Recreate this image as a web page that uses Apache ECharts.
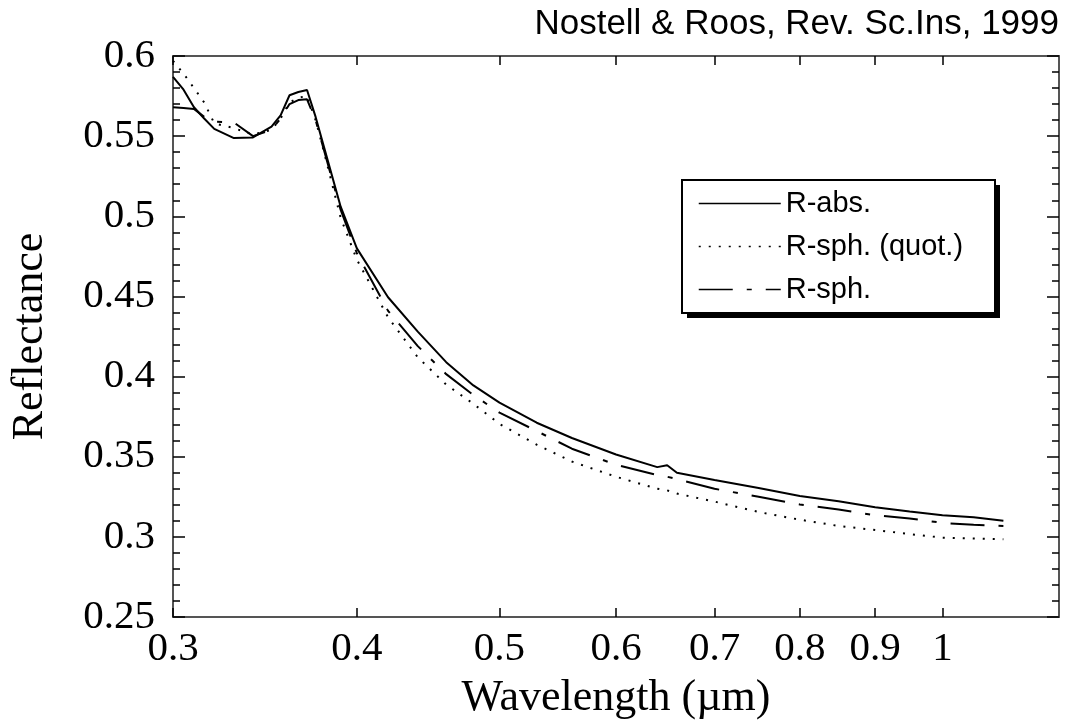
<!DOCTYPE html>
<html><head><meta charset="utf-8">
<script src="https://cdn.jsdelivr.net/npm/echarts@6/dist/echarts.min.js"></script>
<style>html,body{margin:0;padding:0;background:#fff}#c{width:1072px;height:726px}</style>
</head><body><div id="c"></div>
<script>
// Wavelength (µm) sample points
const wavelength = [0.30,0.305,0.31,0.315,0.32,0.33,0.34,0.35,0.355,0.36,0.365,0.37,0.375,0.38,0.39,0.40,0.42,0.44,0.46,0.48,0.50,0.53,0.56,0.60,0.64,0.65,0.66,0.70,0.75,0.80,0.85,0.90,0.95,1.00,1.05,1.10];
// R-abs. (solid)
const rAbs = [0.587,0.579,0.568,0.561,0.5545,0.5488,0.5492,0.556,0.563,0.5755,0.5775,0.5788,0.562,0.543,0.506,0.480,0.4495,0.428,0.409,0.3945,0.3837,0.3712,0.3617,0.3514,0.3435,0.3447,0.3400,0.3355,0.3305,0.3255,0.3222,0.3185,0.3158,0.3135,0.3122,0.3100];
// R-sph. (quot.) (dotted)
const rSphQuot = [0.597,0.589,0.580,0.571,0.558,0.555,0.551,0.554,0.561,0.571,0.574,0.575,0.560,0.540,0.499,0.473,0.437,0.412,0.395,0.383,0.3705,0.3575,0.347,0.3375,0.330,0.329,0.327,0.322,0.3155,0.3107,0.3068,0.3043,0.3017,0.2995,0.2990,0.2985];
// R-sph. (long dash - short dash)
const rSph = [0.568,0.5676,0.567,0.562,0.559,0.5585,0.550,0.554,0.561,0.570,0.5725,0.573,0.560,0.541,0.504,0.477,0.441,0.419,0.4015,0.3885,0.3775,0.366,0.355,0.345,0.3386,0.3375,0.336,0.330,0.325,0.3202,0.317,0.3135,0.3115,0.3087,0.3075,0.3068];

const seriesNames = ['R-abs.', 'R-sph. (quot.)', 'R-sph.'];
const xTickValues = [0.3, 0.4, 0.5, 0.6, 0.7, 0.8, 0.9, 1];
const titleText = 'Nostell & Roos, Rev. Sc.Ins, 1999';
const xName = 'Wavelength (µm)';
const yName = 'Reflectance';

function pairs(ys) { return wavelength.map((x, i) => [x, ys[i]]); }

const serif = '"Liberation Serif","Times New Roman",serif';
const sans = '"Liberation Sans",Arial,sans-serif';
const boxLine = { show: true, lineStyle: { color: '#555', width: 2 } };

// legend frame (decoration only)
const legendBox = { left: 682, top: 180, width: 313, height: 133, shadow: 5 };

const chart = echarts.init(document.getElementById('c'), null, { renderer: 'canvas' });
chart.setOption({
  animation: false,
  backgroundColor: '#fff',
  title: {
    text: titleText, right: 13, top: 7, padding: 0,
    textStyle: { fontFamily: sans, fontSize: 35, fontWeight: 'normal', color: '#000' }
  },
  grid: { left: 173, right: 13, top: 56, bottom: 109 },
  graphic: [{
    type: 'rect', z: 5, silent: true,
    shape: { x: legendBox.left + legendBox.shadow, y: legendBox.top + legendBox.shadow, width: legendBox.width, height: legendBox.height },
    style: { fill: '#000' }
  }, {
    type: 'rect', z: 6, silent: true,
    shape: { x: legendBox.left, y: legendBox.top, width: legendBox.width, height: legendBox.height },
    style: { fill: '#fff', stroke: '#000', lineWidth: 2 }
  }],
  legend: {
    data: seriesNames,
    orient: 'vertical',
    left: legendBox.left, top: legendBox.top,
    padding: [9, 10, 10, 16],
    itemWidth: 82, itemHeight: 14, itemGap: 14,
    z: 10,
    itemStyle: { opacity: 0, borderWidth: 0 },
    lineStyle: { width: 1.5 },
    textStyle: { fontFamily: sans, fontSize: 29, color: '#000', lineHeight: 29 }
  },
  xAxis: [{
    type: 'log', logBase: 10, min: 0.3, max: 1.2, position: 'bottom',
    name: xName, nameLocation: 'middle', nameGap: 59,
    nameTextStyle: { fontFamily: serif, fontSize: 44, color: '#000' },
    axisLine: boxLine,
    axisTick: { show: true, inside: true, length: 9, customValues: xTickValues, lineStyle: { color: '#000', width: 1.5 } },
    axisLabel: { customValues: xTickValues, fontFamily: serif, fontSize: 41, color: '#000', margin: 12,
      formatter: v => String(Math.round(v * 100) / 100) },
    splitLine: { show: false }, minorTick: { show: false }, minorSplitLine: { show: false }
  }, {
    type: 'log', logBase: 10, min: 0.3, max: 1.2, position: 'top',
    axisLine: boxLine,
    axisTick: { show: true, inside: true, length: 9, customValues: xTickValues, lineStyle: { color: '#000', width: 1.5 } },
    axisLabel: { show: false },
    splitLine: { show: false }
  }],
  yAxis: [{
    type: 'value', min: 0.25, max: 0.6, interval: 0.05, position: 'left',
    name: yName, nameLocation: 'middle', nameGap: 121,
    nameTextStyle: { fontFamily: serif, fontSize: 44, color: '#000' },
    axisLine: boxLine,
    axisTick: { show: true, inside: true, length: 12, lineStyle: { color: '#000', width: 1.5 } },
    minorTick: { show: true, splitNumber: 5, length: 7, lineStyle: { color: '#000', width: 1.5 } },
    axisLabel: { fontFamily: serif, fontSize: 41, color: '#000', margin: 18 },
    splitLine: { show: false }
  }, {
    type: 'value', min: 0.25, max: 0.6, interval: 0.05, position: 'right',
    axisLine: boxLine,
    axisTick: { show: true, inside: true, length: 12, lineStyle: { color: '#000', width: 1.5 } },
    minorTick: { show: true, splitNumber: 5, length: 7, lineStyle: { color: '#000', width: 1.5 } },
    axisLabel: { show: false },
    splitLine: { show: false }
  }],
  series: [{
    name: seriesNames[0], type: 'line', data: pairs(rAbs), symbol: 'none',
    lineStyle: { color: '#000', width: 2, type: 'solid' }, itemStyle: { color: '#000' }
  }, {
    name: seriesNames[1], type: 'line', data: pairs(rSphQuot), symbol: 'none',
    lineStyle: { color: '#000', width: 2, type: [2, 8] }, itemStyle: { color: '#000' }
  }, {
    name: seriesNames[2], type: 'line', data: pairs(rSph), symbol: 'none',
    lineStyle: { color: '#000', width: 2, type: [34, 14, 5, 14] }, itemStyle: { color: '#000' }
  }]
});
</script>
</body></html>
